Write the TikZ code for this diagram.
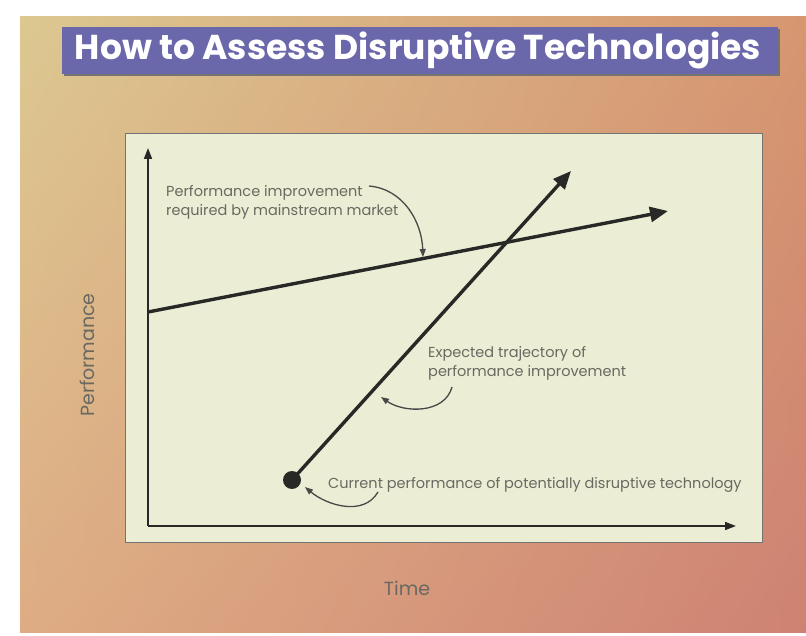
\documentclass[tikz,border=0pt]{standalone}
\usepackage{fontspec}
\setmainfont{Poppins}
\usetikzlibrary{arrows.meta,shadings}

\definecolor{titlebg}{RGB}{106,104,170}
\definecolor{panelbg}{RGB}{235,238,212}
\definecolor{labelgray}{RGB}{105,105,98}
\definecolor{linedark}{RGB}{40,40,38}
\definecolor{tanupleft}{RGB}{220,200,145}
\definecolor{tanupright}{RGB}{214,150,112}
\definecolor{tanlowleft}{RGB}{222,172,132}
\definecolor{tanlowright}{RGB}{206,130,115}

\tikzset{
  axis/.style={draw=linedark, line width=1.6pt, -{Triangle[length=11pt, width=8pt]}},
  trend/.style={draw=linedark, line width=3.4pt, -{Triangle[length=18pt, width=15pt]}},
  pointer/.style={draw=linedark!85, line width=1.3pt, -{Triangle[length=8pt, width=6pt]}},
  note/.style={text=labelgray, font=\fontsize{14.5}{19}\selectfont, align=left, inner sep=0pt},
  axislabel/.style={text=labelgray, font=\fontsize{19}{22}\selectfont, inner sep=0pt}
}

\begin{document}
\begin{tikzpicture}[x=1pt,y=1pt]
  \useasboundingbox (0,0) rectangle (806,635);
  \fill[white] (0,0) rectangle (806,635);
  % backdrop
  \shade[upper left=tanupleft, upper right=tanupright,
         lower left=tanlowleft, lower right=tanlowright]
    (20,3) rectangle (806,618);
  % title bar
  \fill[black!55] (64,559) rectangle (780,606);
  \fill[titlebg] (62,561) rectangle (778,608);
  \node[text=white, font=\bfseries\fontsize{34.5}{38}\selectfont] (title) at (418,585)
    {How to Assess Disruptive Technologies};
  % chart panel
  \draw[draw=black!55, fill=panelbg, line width=0.8pt] (125,93) rectangle (762,502);

  \coordinate (origin) at (148,109);
  \coordinate (ytop) at (148,487);
  \coordinate (xend) at (736,109);
  \coordinate (mainstart) at (148,323);
  \coordinate (mainend) at (668,424);
  \coordinate (trajend) at (571,464);
  \fill[linedark] (292,155) circle (9) coordinate (current);

  \draw[axis] (origin) -- (ytop);
  \draw[axis] (origin) -- (xend);
  \draw[trend] (mainstart) -- (mainend);
  \draw[trend] (current) -- (trajend);

  % notes
  \node[note, anchor=west] (market) at (166,433)
    {Performance improvement\\required by mainstream market};
  \node[note, anchor=west] (expected) at (428,272)
    {Expected trajectory of\\performance improvement};
  \node[note, anchor=west] (disrupt) at (328,150)
    {Current performance of potentially disruptive technology};

  \coordinate (marketfrom) at (369,449);
  \coordinate (marketto) at (423,378);
  \coordinate (expectedfrom) at (452,248);
  \coordinate (expectedto) at (381,238);
  \coordinate (disruptfrom) at (378,143);
  \coordinate (disruptto) at (305,148);

  \draw[pointer] (marketfrom) to[out=-5, in=92] (marketto);
  \draw[pointer] (expectedfrom) to[out=-105, in=-35] (expectedto);
  \draw[pointer] (disruptfrom) to[out=-120, in=-40] (disruptto);

  % axis labels
  \node[axislabel, rotate=90] (perf) at (87,280) {Performance};
  \node[axislabel] (time) at (407,47) {Time};
\end{tikzpicture}
\end{document}
